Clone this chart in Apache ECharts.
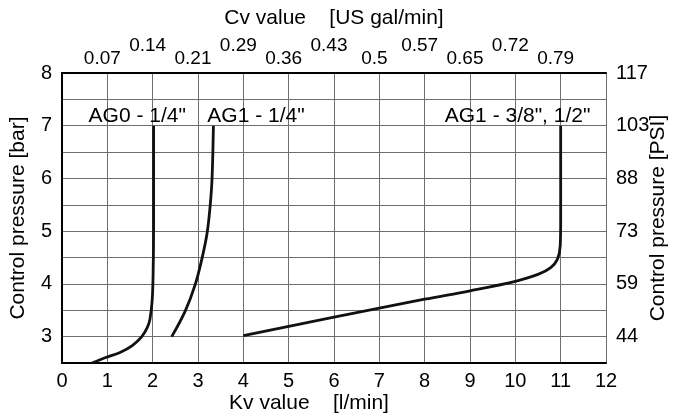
<!DOCTYPE html>
<html>
<head>
<meta charset="utf-8">
<script src="https://cdn.jsdelivr.net/npm/echarts@6/dist/echarts.min.js"></script>
<style>
  html, body { margin: 0; padding: 0; background: #fff; }
  #chart { width: 674px; height: 417px; }
</style>
</head>
<body>
<div id="chart"></div>
<script>
// flow curves: [Kv l/min, control pressure bar]
var ag0Quarter = [[0.66, 2.5], [0.95, 2.6], [1.28, 2.7], [1.55, 2.83], [1.76, 3.0], [1.88, 3.17],
  [1.94, 3.33], [1.99, 3.7], [2.01, 4.2], [2.02, 5.0], [2.02, 7.0]];
var ag1Quarter = [[2.42, 3.0], [2.72, 3.49], [2.94, 3.99], [3.09, 4.49], [3.2, 4.96], [3.27, 5.5],
  [3.31, 6.0], [3.34, 7.0]];
var ag1ThreeEighthHalf = [[4.0, 3.02], [6.0, 3.37], [8.0, 3.71], [9.0, 3.87], [10.0, 4.05], [10.5, 4.18],
  [10.78, 4.31], [10.93, 4.47], [10.99, 4.72], [11.0, 5.2], [11.0, 7.0]];

// curve names, placed in data units
var curveLabels = [
  { name: 'AG0 - 1/4"', value: [1.66, 7.19] },
  { name: 'AG1 - 1/4"', value: [4.28, 7.19] },
  { name: 'AG1 - 3/8", 1/2"', value: [10.05, 7.19] }
];

// top axis: Cv for Kv = 1..11
var cvTicks = ['0.07', '0.14', '0.21', '0.29', '0.36', '0.43', '0.5', '0.57', '0.65', '0.72', '0.79'];
// right axis: PSI for bar = 3..8
var barTicks = [3, 4, 5, 6, 7, 8];
var psiTicks = ['44', '59', '73', '88', '103', '117'];

var FONT = '"Liberation Sans", Arial, sans-serif';
var INK = '#000';
var frame = { show: true, lineStyle: { color: INK, width: 2 } };

var myChart = echarts.init(document.getElementById('chart'));

function curve(data) {
  return {
    type: 'line',
    data: data,
    smooth: 0.35,
    symbol: 'none',
    silent: true,
    lineStyle: { color: '#111', width: 2.8 }
  };
}

myChart.setOption({
  animation: false,
  backgroundColor: '#fff',
  textStyle: { fontFamily: FONT },
  grid: { left: 62, right: 68, top: 73, bottom: 54, outerBoundsMode: 'none' },
  xAxis: [{
    type: 'value', position: 'bottom', min: 0, max: 12, interval: 1,
    axisLine: frame, axisTick: { show: false },
    axisLabel: { fontSize: 20, color: INK, margin: 8, fontFamily: FONT },
    splitLine: { show: true, lineStyle: { color: '#6e6e6e', width: 1 } },
    name: 'Kv value    [l/min]', nameLocation: 'middle', nameGap: 30, nameMoveOverlap: false,
    nameTextStyle: { fontSize: 21, color: INK, fontFamily: FONT, padding: [0, 50, 0, 0] }
  }, {
    type: 'value', position: 'top', min: 0, max: 12, interval: 1,
    axisLine: frame, axisTick: { show: false },
    splitLine: { show: false },
    axisLabel: {
      margin: 5, color: INK, fontFamily: FONT,
      formatter: function (v) {
        if (v < 1 || v > 11) return '';
        var t = cvTicks[v - 1];
        return v % 2 === 0 ? '{hi|' + t + '}' : '{lo|' + t + '}';
      },
      rich: {
        lo: { fontSize: 19, color: INK, fontFamily: FONT, padding: [0, 10, 0, 0] },
        hi: { fontSize: 19, color: INK, fontFamily: FONT, padding: [0, 10, 13, 0] }
      }
    },
    name: 'Cv value    [US gal/min]', nameLocation: 'middle', nameGap: 44, nameMoveOverlap: false,
    nameTextStyle: { fontSize: 21, color: INK, fontFamily: FONT }
  }],
  yAxis: [{
    type: 'value', position: 'left', min: 2.5, max: 8, interval: 0.5,
    axisLine: frame, axisTick: { show: false },
    axisLabel: {
      fontSize: 20, color: INK, margin: 10, fontFamily: FONT,
      formatter: function (v) { return barTicks.indexOf(v) >= 0 ? String(v) : ''; }
    },
    splitLine: { show: true, lineStyle: { color: '#6e6e6e', width: 1 } },
    name: 'Control pressure [bar]', nameLocation: 'middle', nameGap: 33, nameRotate: 90,
    nameMoveOverlap: false,
    nameTextStyle: { fontSize: 21, color: INK, fontFamily: FONT }
  }, {
    type: 'value', position: 'right', min: 2.5, max: 8, interval: 0.5,
    axisLine: frame, axisTick: { show: false },
    splitLine: { show: false },
    axisLabel: {
      fontSize: 20, color: INK, margin: 10, fontFamily: FONT,
      formatter: function (v) {
        var i = barTicks.indexOf(v);
        return i >= 0 ? psiTicks[i] : '';
      }
    },
    name: 'Control pressure [PSI]', nameLocation: 'middle', nameGap: 42, nameRotate: 90,
    nameMoveOverlap: false,
    nameTextStyle: { fontSize: 21, color: INK, fontFamily: FONT }
  }],
  series: [
    curve(ag0Quarter),
    curve(ag1Quarter),
    curve(ag1ThreeEighthHalf),
    {
      type: 'scatter',
      data: curveLabels,
      symbolSize: 0,
      silent: true,
      itemStyle: { opacity: 1 },
      label: {
        show: true, position: 'inside', formatter: '{b}',
        fontSize: 21, color: INK, fontFamily: FONT, textBorderWidth: 0
      }
    }
  ]
});
</script>
</body>
</html>
